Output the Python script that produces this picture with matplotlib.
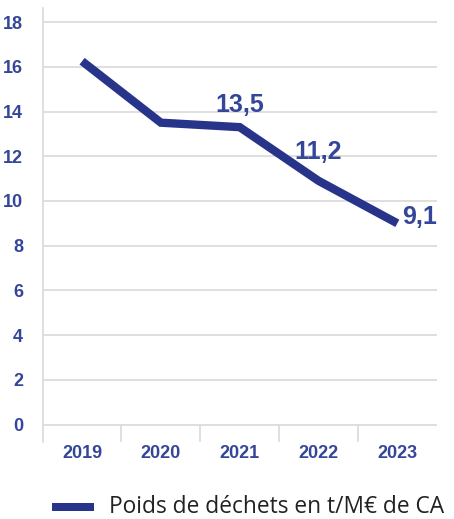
import matplotlib
matplotlib.use("Agg")
import matplotlib.pyplot as plt
from matplotlib.patches import Rectangle

years = ["2019", "2020", "2021", "2022", "2023"]
values = [16.25, 13.5, 13.3, 10.9, 9.0]
label_text = ["13,5", "11,2", "9,1"]
label_idx = [2, 3, 4]
label_y = [14.3, 12.2, 9.3]
legend_label = "Poids de déchets en t/M€ de CA"

navy = "#28338a"
tick_col = "#34469a"
grid_col = "#d9d9d9"
narrow = "Liberation Sans"

fig = plt.figure(figsize=(4.54, 5.19), dpi=100)
ax = fig.add_axes([0.094, 0.148, 0.868, 0.8366])

x = list(range(len(years)))
ax.plot(x, values, color=navy, linewidth=6, solid_capstyle="butt", solid_joinstyle="miter", zorder=3)

ax.set_xlim(-0.5, 4.5)
ax.set_ylim(-0.79, 18.63)
ax.set_yticks(range(0, 19, 2))
ax.yaxis.grid(True, color=grid_col, linewidth=1.2)
ax.set_axisbelow(True)

# category separators below the zero line
ax.vlines([0.5, 1.5, 2.5, 3.5], -0.79, 0, color=grid_col, linewidth=1.2)

for s in ["top", "right", "bottom"]:
    ax.spines[s].set_visible(False)
ax.spines["left"].set_color(grid_col)
ax.spines["left"].set_linewidth(1.2)

ax.set_xticks(x)
ax.set_xticklabels(years)
ax.tick_params(axis="x", length=0, pad=2)
ax.tick_params(axis="y", length=0, pad=14)
for lab in ax.get_xticklabels() + ax.get_yticklabels():
    lab.set_fontfamily(narrow)
    lab.set_fontweight("bold")
    lab.set_color(tick_col)
    lab.set_fontsize(13)

for t, i, y in zip(label_text, label_idx, label_y):
    xx = i if i < 4 else i + 0.28
    ax.text(xx, y, t, ha="center", va="center", fontsize=18, fontweight="bold",
            family=narrow, color=tick_col)

fig.add_artist(Rectangle((52 / 454, 1 - 511 / 519), 42 / 454, 8 / 519,
                         transform=fig.transFigure, color=navy, lw=0))
fig.text(109 / 454, 1 - 507 / 519, legend_label, ha="left", va="center",
         fontsize=16.4, family="Open Sans", color="#222222")

fig.savefig("out.png", dpi=100)
